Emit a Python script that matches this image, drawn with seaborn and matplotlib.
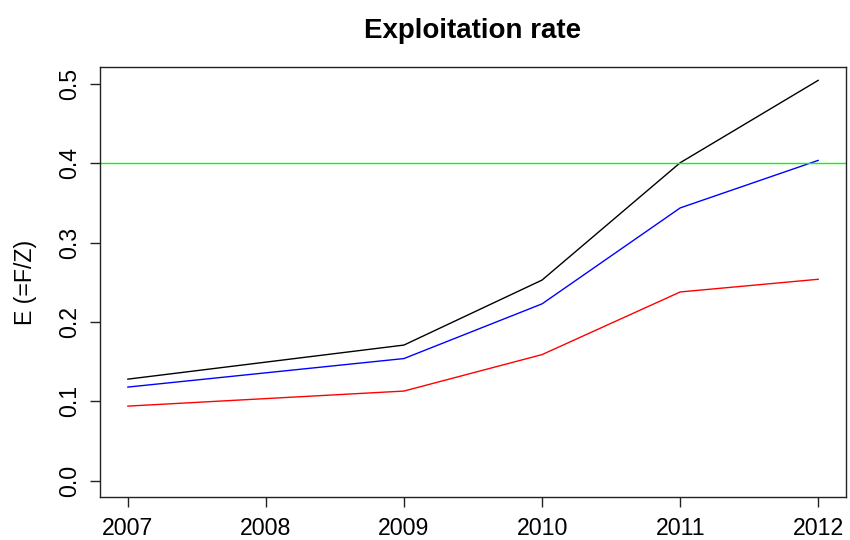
import matplotlib
matplotlib.use("Agg")
import matplotlib.pyplot as plt
import seaborn as sns
import pandas as pd

# Exploitation rate E = F/Z by year, three estimates
years = [2007, 2009, 2010, 2011, 2012]
e_high = [0.128, 0.171, 0.253, 0.401, 0.505]
e_mid = [0.118, 0.154, 0.223, 0.344, 0.404]
e_low = [0.094, 0.113, 0.159, 0.238, 0.254]
reference_level = 0.4

x_ticks = [2007, 2008, 2009, 2010, 2011, 2012]
y_ticks = [0.0, 0.1, 0.2, 0.3, 0.4, 0.5]

sns.set_style("white")
plt.rcParams["font.family"] = ["Liberation Sans", "DejaVu Sans"]
plt.rcParams["text.color"] = "black"
plt.rcParams["axes.labelcolor"] = "black"

df = pd.concat([
    pd.DataFrame({"year": years, "E": e_high, "series": "high"}),
    pd.DataFrame({"year": years, "E": e_mid, "series": "mid"}),
    pd.DataFrame({"year": years, "E": e_low, "series": "low"}),
])

fig = plt.figure(figsize=(8.5, 5.4), dpi=100)
ax = fig.add_axes([100 / 850, 43 / 540, 746 / 850, 430 / 540])

sns.lineplot(data=df, x="year", y="E", hue="series",
             palette={"high": "black", "mid": "#0000FF", "low": "#FF0000"},
             linewidth=1.0, sort=False, legend=False, ax=ax)
ax.axhline(reference_level, color="#00FF00", linewidth=1.0)

ax.set_xlim(2006.8, 2012.2)
ax.set_ylim(-0.0206, 0.5217)
ax.set_xticks(x_ticks)
ax.set_xticklabels([str(t) for t in x_ticks])
ax.set_yticks(y_ticks)
ax.set_yticklabels([f"{t:.1f}" for t in y_ticks])

for s in ax.spines.values():
    s.set_visible(True)
    s.set_color("#222222")
    s.set_linewidth(1.0)

ax.tick_params(axis="both", direction="out", length=7.2, width=1.0,
               color="#222222", labelsize=16.7, labelcolor="black")
ax.tick_params(axis="x", pad=7.5, bottom=True)
ax.tick_params(axis="y", pad=6.5, left=True, labelrotation=90)
for lbl in ax.get_yticklabels():
    lbl.set_verticalalignment("center")

ax.set_xlabel("")
ax.set_ylabel("E (=F/Z)", fontsize=16.7, labelpad=15, color="black")
ax.set_title("Exploitation rate", fontsize=20, fontweight="bold", pad=21,
             color="black")

fig.savefig("out.png", dpi=100)
